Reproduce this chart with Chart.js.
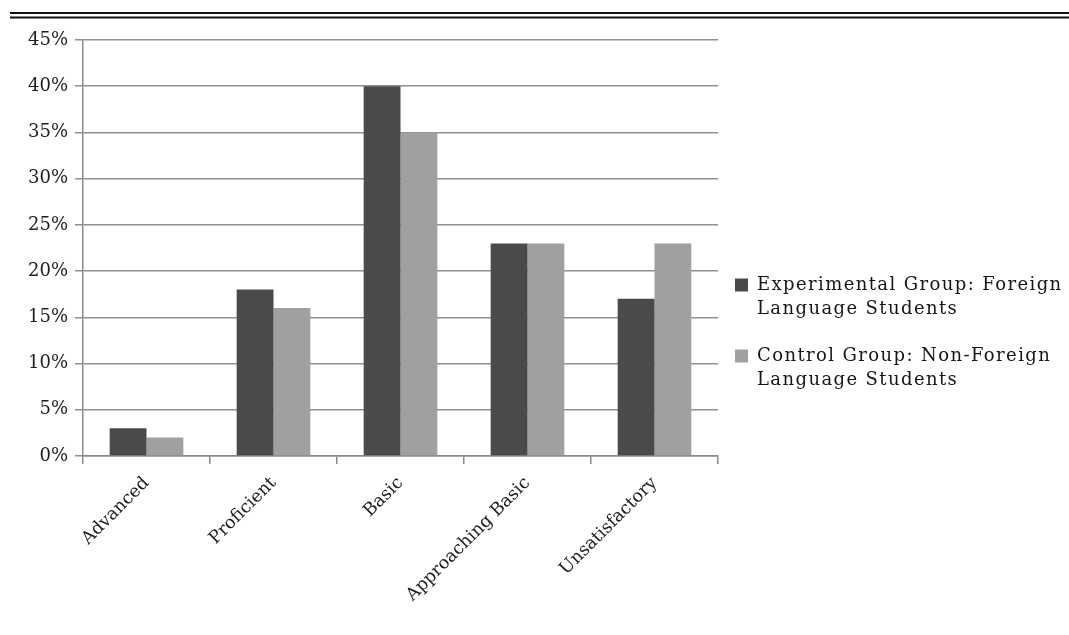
<!DOCTYPE html>
<html>
<head>
<meta charset="utf-8">
<script src="https://cdn.jsdelivr.net/npm/chart.js@4.4.1/dist/chart.umd.min.js"></script>
<style>
  html, body { margin: 0; padding: 0; background: #ffffff; }
  #wrap { position: relative; width: 1069px; height: 635px; }
</style>
</head>
<body>
<div id="wrap"><canvas id="chart" width="1069" height="635"></canvas></div>
<script>
// Achievement levels and the share of students in each group
const categories = ['Advanced', 'Proficient', 'Basic', 'Approaching Basic', 'Unsatisfactory'];
const experimentalGroup = [3, 18, 40, 23, 17];
const controlGroup = [2, 16, 35, 23, 23];
const experimentalLabel = ['Experimental Group: Foreign', 'Language Students'];
const controlLabel = ['Control Group: Non-Foreign', 'Language Students'];
const yMax = 45;
const yStep = 5;

const FONT = '"DejaVu Serif", "Liberation Serif", serif';

// Double rule across the top of the figure
const topRules = {
  id: 'topRules',
  beforeDraw(chart) {
    const ctx = chart.ctx;
    ctx.save();
    ctx.strokeStyle = '#111';
    ctx.lineWidth = 2;
    ctx.beginPath();
    ctx.moveTo(10, 13); ctx.lineTo(1069, 13);
    ctx.moveTo(10, 17.5); ctx.lineTo(1069, 17.5);
    ctx.stroke();
    ctx.restore();
  }
};

// Legend with two-line entries, placed right of the plot
const sideLegend = {
  id: 'sideLegend',
  afterDraw(chart) {
    const ctx = chart.ctx;
    ctx.save();
    ctx.font = '18px ' + FONT;
    ctx.letterSpacing = '1.4px';
    ctx.textBaseline = 'middle';
    ctx.textAlign = 'left';
    const x0 = 735;
    const tops = [285, 356];
    chart.data.datasets.forEach((ds, i) => {
      const y = tops[i];
      ctx.fillStyle = ds.backgroundColor;
      ctx.fillRect(x0, y - 6.5, 13, 13);
      ctx.fillStyle = '#161616';
      ds.label.forEach((line, j) => {
        ctx.fillText(line, x0 + 22, y + j * 24);
      });
    });
    ctx.restore();
  }
};

new Chart(document.getElementById('chart'), {
  type: 'bar',
  data: {
    labels: categories,
    datasets: [
      { label: experimentalLabel, data: experimentalGroup, backgroundColor: '#4a4a4a',
        categoryPercentage: 0.58, barPercentage: 1.0 },
      { label: controlLabel, data: controlGroup, backgroundColor: '#a0a0a0',
        categoryPercentage: 0.58, barPercentage: 1.0 }
    ]
  },
  options: {
    responsive: false,
    animation: false,
    devicePixelRatio: 1,
    layout: { padding: { top: 40, right: 351, bottom: 0, left: 0 } },
    plugins: {
      legend: { display: false },
      tooltip: { enabled: false }
    },
    scales: {
      x: {
        offset: true,
        grid: { display: true, drawOnChartArea: false, drawTicks: true, tickLength: 8,
                color: '#8a8a8a', lineWidth: 1.5, offset: true },
        border: { display: true, color: '#8a8a8a', width: 1.5 },
        ticks: { color: '#1e1e1e', font: { family: FONT, size: 17.5 },
                 maxRotation: 45, minRotation: 45, padding: 9 },
        afterFit(scale) { scale.height = 179; }
      },
      y: {
        min: 0, max: yMax,
        grid: { color: '#8f8f8f', lineWidth: 1.5, tickLength: 8, drawTicks: true },
        border: { display: true, color: '#8a8a8a', width: 1.5 },
        ticks: { stepSize: yStep, color: '#1e1e1e', font: { family: FONT, size: 18 }, padding: 7,
                 callback: v => v + '%' },
        afterFit(scale) { scale.width = 83; }
      }
    }
  },
  plugins: [topRules, sideLegend]
});
</script>
</body>
</html>
